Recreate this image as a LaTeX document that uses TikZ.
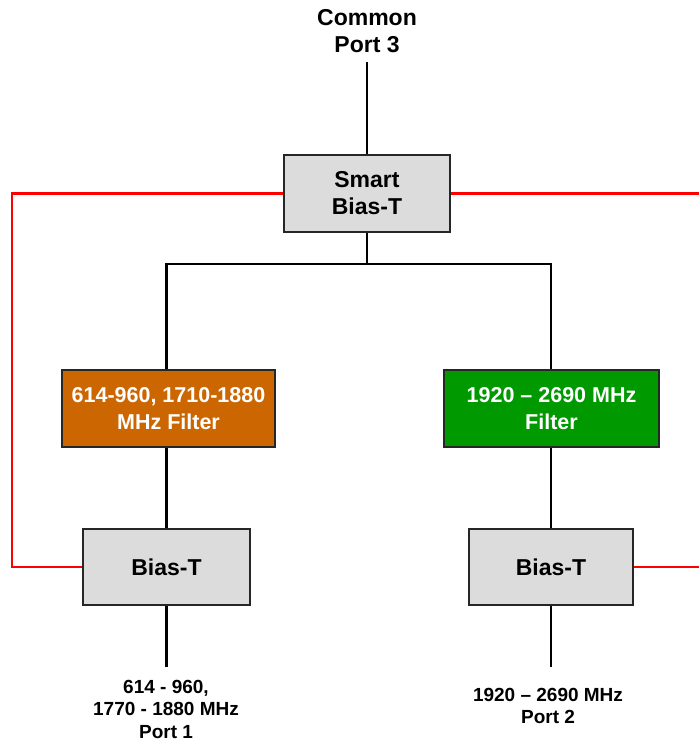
\documentclass[tikz,border=0pt]{standalone}
\usepackage{fontspec}
\setmainfont{Liberation Sans}
\usepackage{tikz}
\usetikzlibrary{positioning,calc}
\definecolor{filterorange}{RGB}{204,102,0}
\definecolor{filtergreen}{RGB}{0,153,0}
\definecolor{boxgray}{RGB}{220,220,220}

\begin{document}
\begin{tikzpicture}[x=1pt, y=-1pt, line width=2.6pt]
  \tikzstyle{biasbox} = [rectangle, draw=black!85, fill=boxgray, inner sep=0pt, font=\bfseries\fontsize{23}{27}\selectfont, align=center]
  \tikzstyle{filterbox} = [rectangle, draw=black!85, inner sep=0pt, text=white, font=\bfseries\fontsize{21.5}{27}\selectfont, align=center, minimum height=77pt]
  \tikzstyle{portlabel} = [inner sep=0pt, align=center]
  \tikzstyle{dcline} = [red, line width=2.6pt]

  \useasboundingbox (0,0) rectangle (699,744);

  % common port
  \node[portlabel, font=\bfseries\fontsize{23}{27}\selectfont] (common) at (367,31) {Common\\Port 3};
  \coordinate (commonend) at (367,62);

  % boxes
  \node[biasbox, minimum width=166pt, minimum height=77pt] (smart) at (367,193.5) {Smart\\Bias-T};
  \node[filterbox, fill=filterorange, minimum width=213pt] (lfilter) at (168.5,408.5) {614-960, 1710-1880\\MHz Filter};
  \node[filterbox, fill=filtergreen, minimum width=215pt] (rfilter) at (551.5,408.5) {1920 -- 2690 MHz\\Filter};
  \node[biasbox, minimum width=167pt, minimum height=76pt] (lbias) at (166.5,567) {Bias-T};
  \node[biasbox, minimum width=164pt, minimum height=76pt] (rbias) at (551,567) {Bias-T};

  % RF path
  \coordinate (split) at (367,264);
  \draw (commonend) -- (smart.north);
  \draw (smart.south) -- (split);
  \draw (split) -| (lfilter.north -| lbias.north);
  \draw (split) -| (rfilter.north -| rbias.north);
  \draw (lfilter.south -| lbias.north) -- (lbias.north);
  \draw (rfilter.south -| rbias.north) -- (rbias.north);

  % output ports
  \node[portlabel, font=\bfseries\fontsize{19}{22.5}\selectfont] (port1) at (166,709) {614 - 960,\\1770 - 1880 MHz\\Port 1};
  \node[portlabel, font=\bfseries\fontsize{19}{22.5}\selectfont] (port2) at (548,706) {1920 -- 2690 MHz\\Port 2};
  \coordinate (p1end) at (166.5,667);
  \coordinate (p2end) at (551,667);
  \draw (lbias.south) -- (p1end);
  \draw (rbias.south) -- (p2end);

  % DC feed lines
  \coordinate (dcleft) at (12,193.5);
  \coordinate (dcright) at (699,193.5);
  \coordinate (dcright2) at (699,567);
  \draw[dcline] (smart.west) -- (dcleft) |- (lbias.west);
  \draw[dcline] (smart.east) -- (dcright);
  \draw[dcline] (rbias.east) -- (dcright2);
\end{tikzpicture}
\end{document}
